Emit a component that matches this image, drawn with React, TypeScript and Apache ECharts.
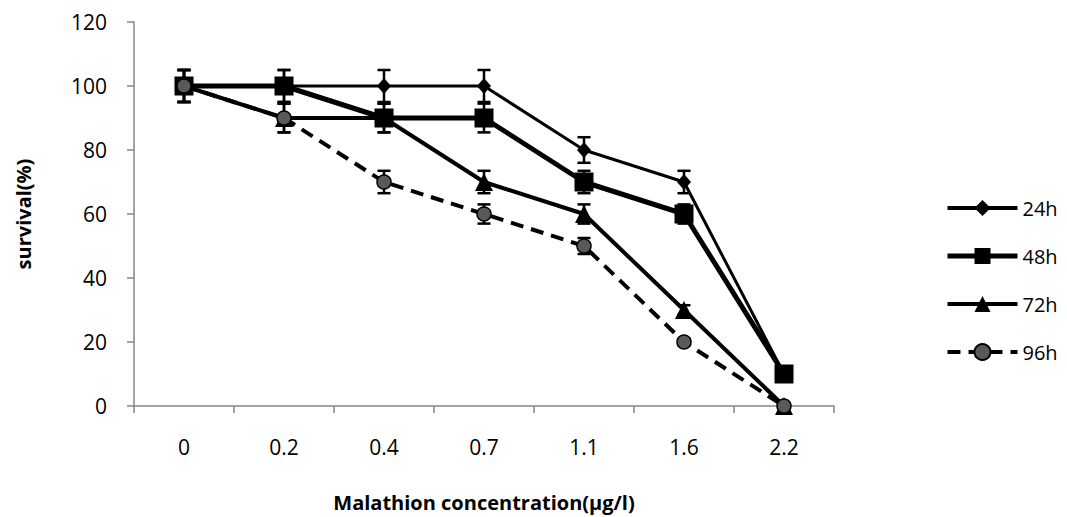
import React, { useEffect, useRef } from "react";
import * as echarts from "echarts";

const categories = ["0", "0.2", "0.4", "0.7", "1.1", "1.6", "2.2"];
const seriesNames = ["24h", "48h", "72h", "96h"];
const s24 = [100, 100, 100, 100, 80, 70, 10];
const s48 = [100, 100, 90, 90, 70, 60, 10];
const s72 = [100, 90, 90, 70, 60, 30, 0];
const s96 = [100, 90, 70, 60, 50, 20, 0];
const e24 = [5, 5, 5, 5, 4, 3.5, 0.5];
const e48 = [5, 5, 4.5, 4.5, 3.5, 3, 0.5];
const e72 = [5, 4.5, 4.5, 3.5, 3, 1.5, 0];
const e96 = [5, 4.5, 3.5, 3, 2.5, 1, 0];

const FONT = "'Open Sans', 'Noto Sans', sans-serif";

export default function App() {
  const ref = useRef<HTMLDivElement>(null);
  useEffect(() => {
    if (!ref.current) return;
    const chart = echarts.init(ref.current, undefined, { renderer: "svg" });

    const errSeries = (name: string, vals: number[], errs: number[]) => ({
      type: "custom",
      name: name + "-err",
      z: 3,
      data: vals.map((v, i) => [i, v, errs[i]]),
      renderItem: (params: any, api: any) => {
        const x = api.value(0);
        const v = api.value(1);
        const e = api.value(2);
        const top = api.coord([x, v + e]);
        const bot = api.coord([x, v - e]);
        const cx = top[0];
        const hw = 6.5;
        const st = { stroke: "#000", lineWidth: 2.5 };
        return {
          type: "group",
          children: [
            { type: "line", shape: { x1: cx, y1: top[1], x2: cx, y2: bot[1] }, style: st },
            { type: "line", shape: { x1: cx - hw, y1: top[1], x2: cx + hw, y2: top[1] }, style: st },
            { type: "line", shape: { x1: cx - hw, y1: bot[1], x2: cx + hw, y2: bot[1] }, style: st },
          ],
        };
      },
      encode: { x: 0, y: 1 },
      silent: true,
    });

    const option: any = {
      animation: false,
      backgroundColor: "#fff",
      grid: { left: 134, right: 233, top: 22, bottom: 109, containLabel: false },
      legend: {
        data: [
          { name: seriesNames[0], lineStyle: { width: 4 } },
          { name: seriesNames[1] },
          { name: seriesNames[2] },
          { name: seriesNames[3] },
        ],
        orient: "vertical",
        left: 945,
        top: 198,
        padding: 0,
        itemWidth: 70,
        itemHeight: 20,
        itemGap: 28,
        lineStyle: { width: "inherit" },
        textStyle: { fontFamily: FONT, fontSize: 20, color: "#000", width: 50, overflow: "none" },
      },
      xAxis: {
        type: "category",
        data: categories,
        boundaryGap: true,
        name: "Malathion concentration(µg/l)",
        nameLocation: "middle",
        nameGap: 86,
        nameTextStyle: { fontFamily: FONT, fontSize: 20, fontWeight: "bold", color: "#000" },
        axisLine: { lineStyle: { color: "#868686", width: 1.5 } },
        axisTick: { show: true, length: 7, lineStyle: { color: "#868686", width: 1.5 } },
        axisLabel: { fontFamily: FONT, fontSize: 21, color: "#000", margin: 30 },
        splitLine: { show: false },
      },
      yAxis: {
        type: "value",
        min: 0,
        max: 120,
        interval: 20,
        name: "survival(%)",
        nameLocation: "middle",
        nameGap: 101,
        nameTextStyle: { fontFamily: FONT, fontSize: 20, fontWeight: "bold", color: "#000" },
        axisLine: { show: true, lineStyle: { color: "#868686", width: 1.5 } },
        axisTick: { show: true, length: 7, lineStyle: { color: "#868686", width: 1.5 } },
        axisLabel: { fontFamily: FONT, fontSize: 21, color: "#000", margin: 27 },
        splitLine: { show: false },
      },
      series: [
        errSeries("24h", s24, e24),
        errSeries("48h", s48, e48),
        errSeries("72h", s72, e72),
        errSeries("96h", s96, e96),
        {
          type: "line",
          name: "24h",
          data: s24,
          z: 4,
          symbol: "diamond",
          symbolSize: [14, 16],
          lineStyle: { color: "#000", width: 3 },
          itemStyle: { color: "#000", borderColor: "#000", borderWidth: 0 },
        },
        {
          type: "line",
          name: "48h",
          data: s48,
          z: 5,
          symbol: "rect",
          symbolSize: 19,
          lineStyle: { color: "#000", width: 5 },
          itemStyle: { color: "#000", borderColor: "#000", borderWidth: 0 },
        },
        {
          type: "line",
          name: "72h",
          data: s72,
          z: 6,
          symbol: "triangle",
          symbolSize: 18,
          lineStyle: { color: "#000", width: 4 },
          itemStyle: { color: "#000", borderColor: "#000", borderWidth: 0 },
        },
        {
          type: "line",
          name: "96h",
          data: s96,
          z: 7,
          symbol: "circle",
          symbolSize: 14,
          lineStyle: { color: "#000", width: 4, type: [13, 8] },
          itemStyle: { color: "#595959", borderColor: "#000", borderWidth: 1.5 },
        },
      ],
    };
    chart.setOption(option);
    return () => chart.dispose();
  }, []);
  return <div ref={ref} style={{ width: 1067, height: 517, position: "absolute", left: 0, top: 0 }} />;
}
